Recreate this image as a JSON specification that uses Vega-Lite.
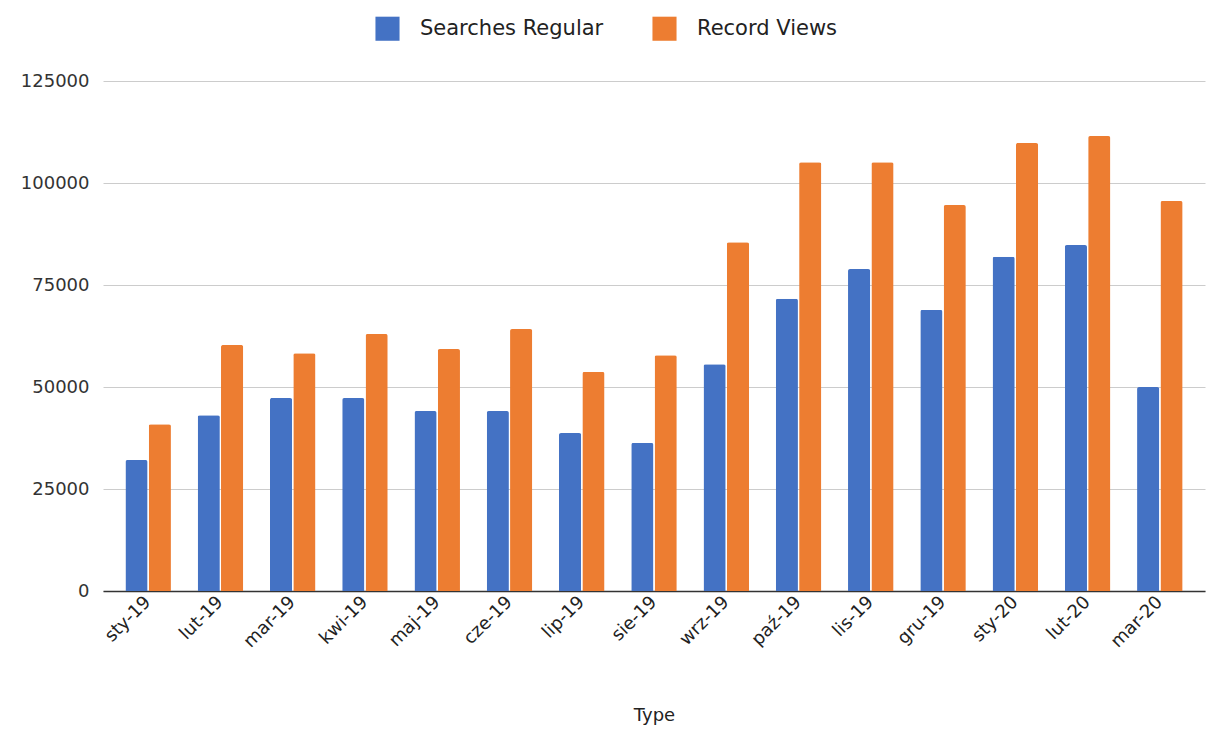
{
  "$schema": "https://vega.github.io/schema/vega-lite/v6.json",
  "autosize": {"type": "fit", "contains": "padding"},
  "width": 1209,
  "height": 729,
  "padding": {"left": 20, "top": 72, "right": 4, "bottom": 4},
  "background": "white",
  "data": {
    "values": [
      {"month": "sty-19", "series": "Searches Regular", "value": 32100},
      {"month": "sty-19", "series": "Record Views", "value": 40900},
      {"month": "lut-19", "series": "Searches Regular", "value": 43100},
      {"month": "lut-19", "series": "Record Views", "value": 60300},
      {"month": "mar-19", "series": "Searches Regular", "value": 47300},
      {"month": "mar-19", "series": "Record Views", "value": 58300},
      {"month": "kwi-19", "series": "Searches Regular", "value": 47300},
      {"month": "kwi-19", "series": "Record Views", "value": 63000},
      {"month": "maj-19", "series": "Searches Regular", "value": 44100},
      {"month": "maj-19", "series": "Record Views", "value": 59300},
      {"month": "cze-19", "series": "Searches Regular", "value": 44100},
      {"month": "cze-19", "series": "Record Views", "value": 64200},
      {"month": "lip-19", "series": "Searches Regular", "value": 38700},
      {"month": "lip-19", "series": "Record Views", "value": 53700},
      {"month": "sie-19", "series": "Searches Regular", "value": 36300},
      {"month": "sie-19", "series": "Record Views", "value": 57800},
      {"month": "wrz-19", "series": "Searches Regular", "value": 55600},
      {"month": "wrz-19", "series": "Record Views", "value": 85500},
      {"month": "paź-19", "series": "Searches Regular", "value": 71600},
      {"month": "paź-19", "series": "Record Views", "value": 105100},
      {"month": "lis-19", "series": "Searches Regular", "value": 78900},
      {"month": "lis-19", "series": "Record Views", "value": 105100},
      {"month": "gru-19", "series": "Searches Regular", "value": 68900},
      {"month": "gru-19", "series": "Record Views", "value": 94600},
      {"month": "sty-20", "series": "Searches Regular", "value": 81900},
      {"month": "sty-20", "series": "Record Views", "value": 109800},
      {"month": "lut-20", "series": "Searches Regular", "value": 84800},
      {"month": "lut-20", "series": "Record Views", "value": 111500},
      {"month": "mar-20", "series": "Searches Regular", "value": 50000},
      {"month": "mar-20", "series": "Record Views", "value": 95600}
    ]
  },
  "mark": {"type": "bar", "cornerRadiusTopLeft": 2, "cornerRadiusTopRight": 2},
  "encoding": {
    "x": {
      "field": "month",
      "type": "nominal",
      "sort": null,
      "title": "Type",
      "scale": {"paddingInner": 0.37, "paddingOuter": 0.31},
      "axis": {
        "labelAngle": -45,
        "labelAlign": "right",
        "labelBaseline": "middle",
        "labelFontSize": 18,
        "labelColor": "#222",
        "labelFont": "DejaVu Sans",
        "labelPadding": 8,
        "ticks": false,
        "domainColor": "#333",
        "domainWidth": 1.5,
        "titleFont": "DejaVu Sans",
        "titleFontSize": 18,
        "titleFontWeight": "normal",
        "titleColor": "#222",
        "titlePadding": 56
      }
    },
    "xOffset": {
      "field": "series",
      "sort": ["Searches Regular", "Record Views"],
      "scale": {"paddingInner": 0.05}
    },
    "y": {
      "field": "value",
      "type": "quantitative",
      "title": null,
      "scale": {"domain": [0, 125000]},
      "axis": {
        "values": [0, 25000, 50000, 75000, 100000, 125000],
        "format": "d",
        "labelFontSize": 18,
        "labelColor": "#333",
        "labelFont": "DejaVu Sans",
        "labelPadding": 14,
        "ticks": false,
        "domain": false,
        "gridColor": "#cccccc",
        "gridWidth": 1
      }
    },
    "color": {
      "field": "series",
      "type": "nominal",
      "sort": ["Searches Regular", "Record Views"],
      "scale": {"domain": ["Searches Regular", "Record Views"], "range": ["#4472C4", "#ED7D31"]},
      "legend": {
        "orient": "none",
        "legendX": 272,
        "legendY": -65,
        "direction": "horizontal",
        "title": null,
        "symbolType": "square",
        "symbolSize": 580,
        "symbolStrokeWidth": 0,
        "labelFontSize": 21,
        "labelFont": "DejaVu Sans",
        "labelColor": "#222",
        "labelLimit": 400,
        "columnPadding": 48,
        "labelOffset": 20
      }
    }
  },
  "config": {"view": {"stroke": null}}
}
